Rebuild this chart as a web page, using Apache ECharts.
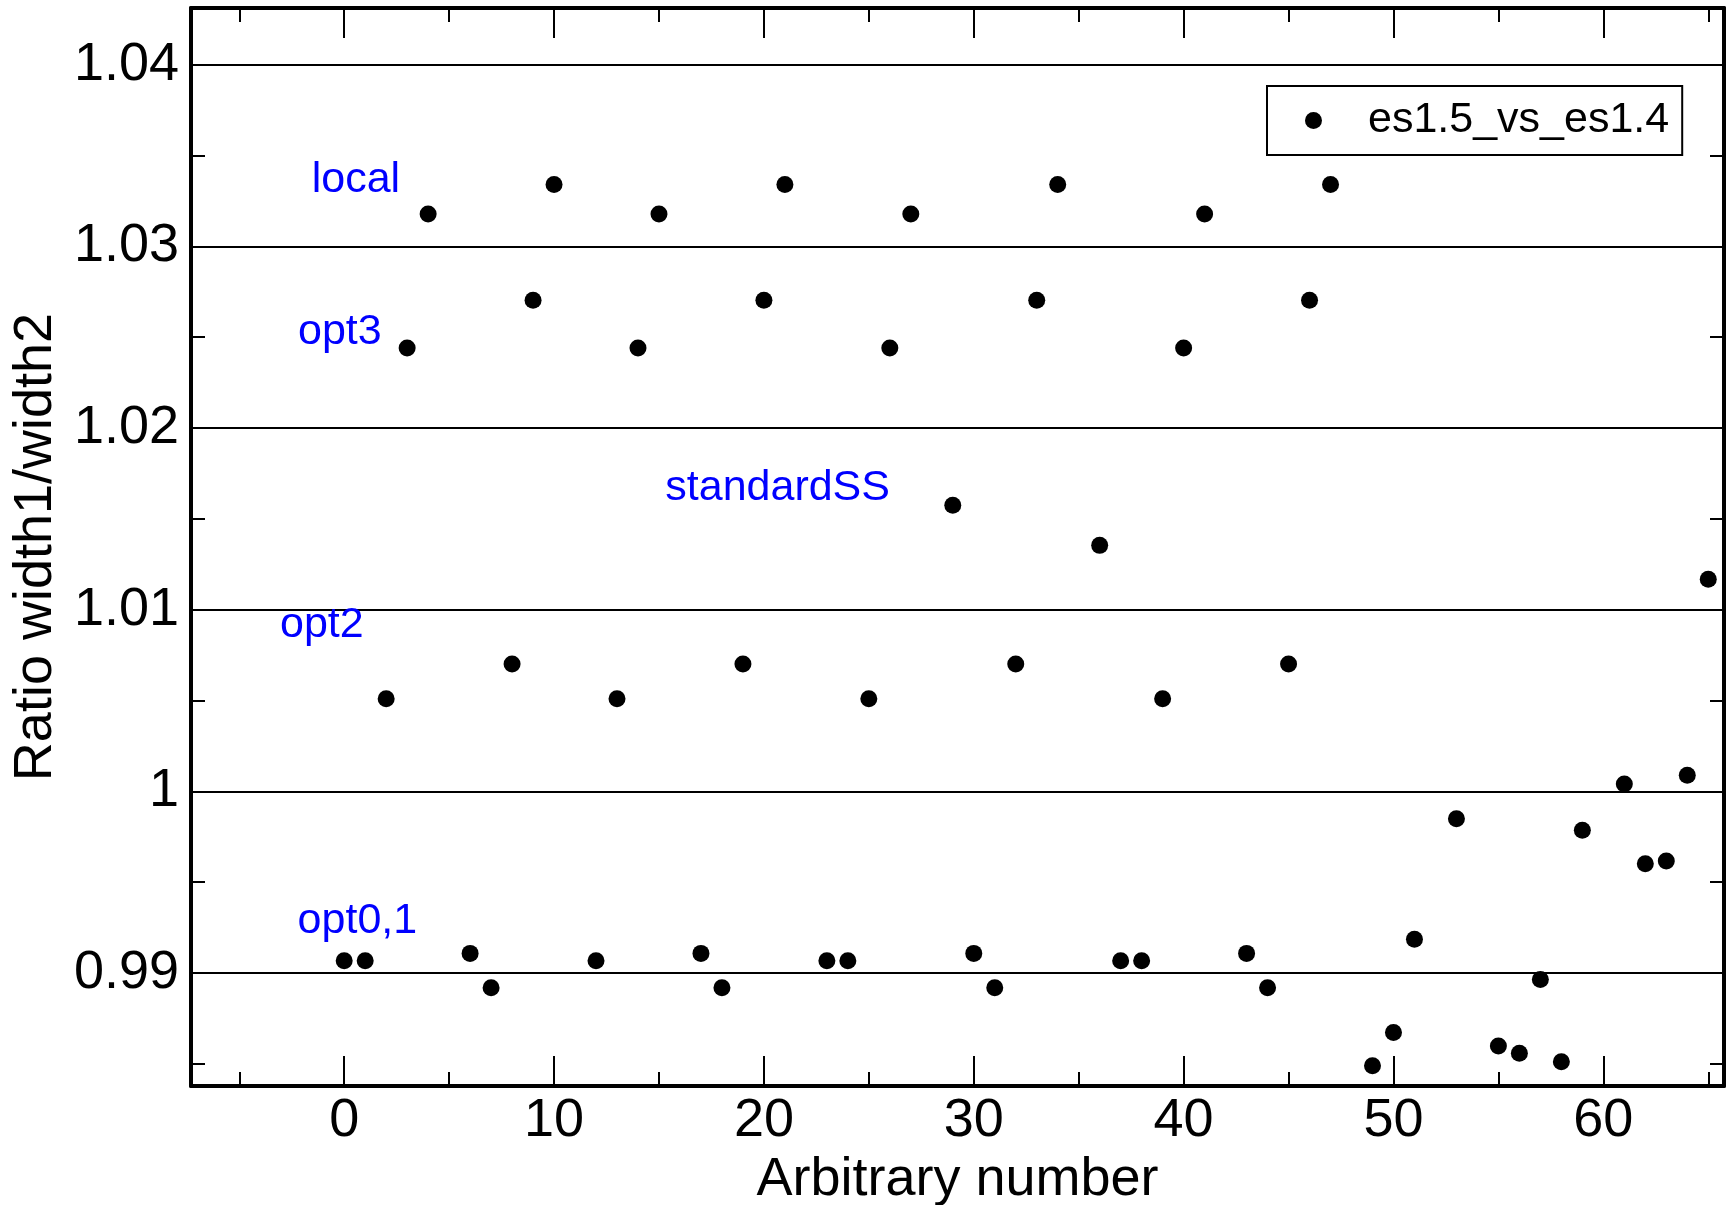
<!DOCTYPE html>
<html>
<head>
<meta charset="utf-8">
<script src="https://cdn.jsdelivr.net/npm/echarts@6/dist/echarts.min.js"></script>
<style>
html,body{margin:0;padding:0;background:#fff;}
#chart{width:1726px;height:1205px;}
</style>
</head>
<body>
<div id="chart"></div>
<script>
// ---- data ----
const seriesName = 'es1.5_vs_es1.4';

const localX = [4, 10, 15, 21, 27, 34, 41, 47];
const localY = [1.03178, 1.03340, 1.03178, 1.03340, 1.03178, 1.03340, 1.03178, 1.03340];

const opt3X = [3, 9, 14, 20, 26, 33, 40, 46];
const opt3Y = [1.02440, 1.02703, 1.02440, 1.02703, 1.02440, 1.02703, 1.02440, 1.02703];

const standardX = [29, 36];
const standardY = [1.01575, 1.01354];

const opt2X = [2, 8, 13, 19, 25, 32, 39, 45];
const opt2Y = [1.00510, 1.00701, 1.00510, 1.00701, 1.00510, 1.00701, 1.00510, 1.00701];

const opt01X = [0, 1, 6, 7, 12, 17, 18, 23, 24, 30, 31, 37, 38, 43, 44];
const opt01Y = [0.99068, 0.99068, 0.99108, 0.98919, 0.99068, 0.99108, 0.98919, 0.99068, 0.99068,
                0.99108, 0.98919, 0.99068, 0.99068, 0.99108, 0.98919];

const tailX = [49, 50, 51, 53, 55, 56, 57, 58, 59, 61, 62, 63, 64, 65];
const tailY = [0.98490, 0.98672, 0.99186, 0.99849, 0.98598, 0.98558, 0.98964, 0.98512, 0.99786,
               1.00040, 0.99601, 0.99616, 1.00089, 1.01167];

// annotation labels
const noteText = ['local', 'opt3', 'standardSS', 'opt2', 'opt0,1'];
const noteX = [-1.55, -2.20, 15.30, -3.06, -2.22];
const noteY = [1.03362, 1.02530, 1.01667, 1.00913, 0.99285];

// axes
const xMin = -7.30, xMax = 65.75;
const yMin = 0.98378, yMax = 1.04312;
const xMajor = [0, 10, 20, 30, 40, 50, 60];
const xMinor = [-5, 5, 15, 25, 35, 45, 55, 65];
const yMajor = [0.99, 1.0, 1.01, 1.02, 1.03, 1.04];
const yMinor = [0.985, 0.995, 1.005, 1.015, 1.025, 1.035];
const yAll = [0.985, 0.99, 0.995, 1.0, 1.005, 1.01, 1.015, 1.02, 1.025, 1.03, 1.035, 1.04];

// ---- build ----
function pairs(xs, ys) { return xs.map((x, i) => [x, ys[i]]); }
const points = [].concat(
  pairs(localX, localY), pairs(opt3X, opt3Y), pairs(standardX, standardY),
  pairs(opt2X, opt2Y), pairs(opt01X, opt01Y), pairs(tailX, tailY)
);
const notes = noteText.map((t, i) => [noteX[i], noteY[i], t]);

const FONT = '"Liberation Sans", Arial, Helvetica, sans-serif';
const black = '#000';

function xAxisDef(pos, ticks, len, opts) {
  return Object.assign({
    type: 'value', position: pos, min: xMin, max: xMax,
    axisLine: { show: false, onZero: false, lineStyle: { color: black, width: 4 } },
    axisTick: { show: true, inside: true, length: len, customValues: ticks, lineStyle: { color: black, width: 2 } },
    axisLabel: { show: false },
    splitLine: { show: false }
  }, opts || {});
}
function yAxisDef(pos, ticks, len, opts) {
  return Object.assign({
    type: 'value', position: pos, min: yMin, max: yMax,
    axisLine: { show: false, onZero: false, lineStyle: { color: black, width: 4 } },
    axisTick: { show: true, inside: true, length: len, customValues: ticks, lineStyle: { color: black, width: 2 } },
    axisLabel: { show: false },
    splitLine: { show: false }
  }, opts || {});
}

const chart = echarts.init(document.getElementById('chart'), null, { renderer: 'canvas' });
chart.setOption({
  backgroundColor: '#fff',
  animation: false,
  textStyle: { fontFamily: FONT },
  grid: { left: 191, right: 2, top: 8, bottom: 119, containLabel: false, outerBoundsMode: 'none' },
  legend: {
    left: 1267, top: 86,
    data: [seriesName],
    icon: 'circle',
    itemWidth: 17, itemHeight: 17,
    padding: [13, 13, 13, 38],
    borderColor: black, borderWidth: 2,
    backgroundColor: '#fff',
    itemStyle: { opacity: 1 },
    textStyle: { fontFamily: FONT, fontSize: 43, color: black, lineHeight: 43, padding: [0, 0, 0, 41] }
  },
  xAxis: [
    xAxisDef('bottom', xMajor, 30, {
      axisLine: { show: true, onZero: false, lineStyle: { color: black, width: 4 } },
      axisLabel: { show: true, customValues: xMajor, fontFamily: FONT, fontSize: 54, color: black, margin: 8 },
      name: 'Arbitrary number', nameLocation: 'middle', nameGap: 63,
      nameTextStyle: { fontFamily: FONT, fontSize: 54, color: black }
    }),
    xAxisDef('bottom', xMinor, 14),
    xAxisDef('top', xMajor, 30, { axisLine: { show: true, onZero: false, lineStyle: { color: black, width: 4 } } }),
    xAxisDef('top', xMinor, 14)
  ],
  yAxis: [
    yAxisDef('left', yMajor, 14, {
      axisLine: { show: true, onZero: false, lineStyle: { color: black, width: 4 } },
      axisLabel: { show: true, customValues: yMajor, fontFamily: FONT, fontSize: 54, color: black, margin: 12,
                   formatter: v => String(+(+v).toFixed(3)) },
      splitLine: { show: true, lineStyle: { color: black, width: 2 } },
      name: 'Ratio width1/width2', nameLocation: 'middle', nameGap: 117,
      nameTextStyle: { fontFamily: FONT, fontSize: 54, color: black }
    }),
    yAxisDef('left', yMinor, 14),
    yAxisDef('right', yAll, 14, { axisLine: { show: true, onZero: false, lineStyle: { color: black, width: 4 } } })
  ],
  series: [
    {
      name: seriesName, type: 'scatter', xAxisIndex: 0, yAxisIndex: 0,
      symbol: 'circle', symbolSize: 17,
      itemStyle: { color: black, opacity: 1 },
      data: points, z: 5
    },
    {
      name: 'notes', type: 'scatter', xAxisIndex: 0, yAxisIndex: 0,
      symbolSize: 0, silent: true,
      itemStyle: { opacity: 1 },
      data: notes,
      label: {
        show: true, position: 'right', distance: 0,
        formatter: p => p.data[2],
        fontFamily: FONT, fontSize: 43, color: '#0000ff', opacity: 1
      }
    }
  ]
});
</script>
</body>
</html>
